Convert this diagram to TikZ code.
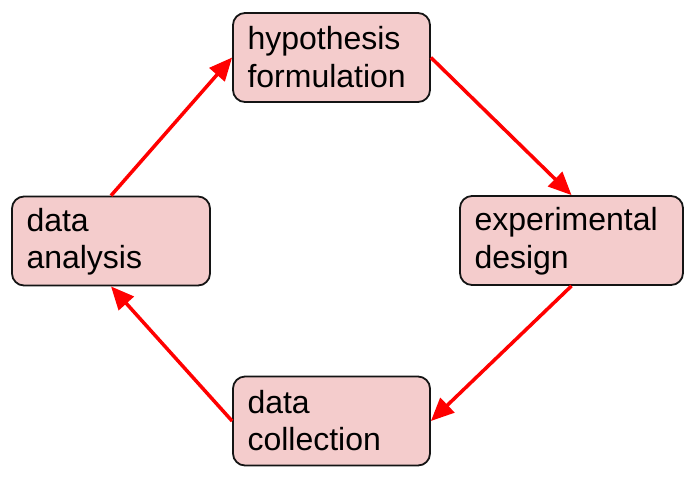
\documentclass[tikz,border=0pt]{standalone}
\usepackage{fontspec}
\setmainfont{Liberation Sans}
\usetikzlibrary{arrows.meta}
\definecolor{boxfill}{RGB}{244,204,204}
\definecolor{boxline}{RGB}{20,20,20}
\definecolor{arrowred}{RGB}{255,0,0}
\newcommand{\topstrut}{\rule{0pt}{25pt}}
\newcommand{\botstrut}{\rule[-3pt]{0pt}{3pt}}
\begin{document}
\begin{tikzpicture}[x=1pt,y=-1pt,
  stagebox/.style={draw=boxline, line width=1.8pt, fill=boxfill, rounded corners=12pt,
    inner xsep=14.5pt, inner ysep=0pt, minimum height=89pt, align=left,
    font=\fontsize{32}{37.5}\selectfont},
  cyclearrow/.style={draw=arrowred, line width=3.5pt, -{Triangle[length=23pt,width=20pt]}}
]
\useasboundingbox (0,0) rectangle (700,483);
\node[stagebox, text width=168pt] (hyp) at (331.5,57.5) {\topstrut hypothesis\\formulation\botstrut};
\node[stagebox, text width=194pt] (exp) at (571.5,240.5) {\topstrut experimental\\design\botstrut};
\node[stagebox, text width=168pt] (coll) at (331.5,421) {\topstrut data\\collection\botstrut};
\node[stagebox, text width=169pt] (ana) at (111,241) {\topstrut data\\analysis\botstrut};
\draw[cyclearrow] (hyp.east) -- (exp.north);
\draw[cyclearrow] (exp.south) -- (coll.east);
\draw[cyclearrow] (coll.west) -- (ana.south);
\draw[cyclearrow] (ana.north) -- (hyp.west);
\end{tikzpicture}
\end{document}
